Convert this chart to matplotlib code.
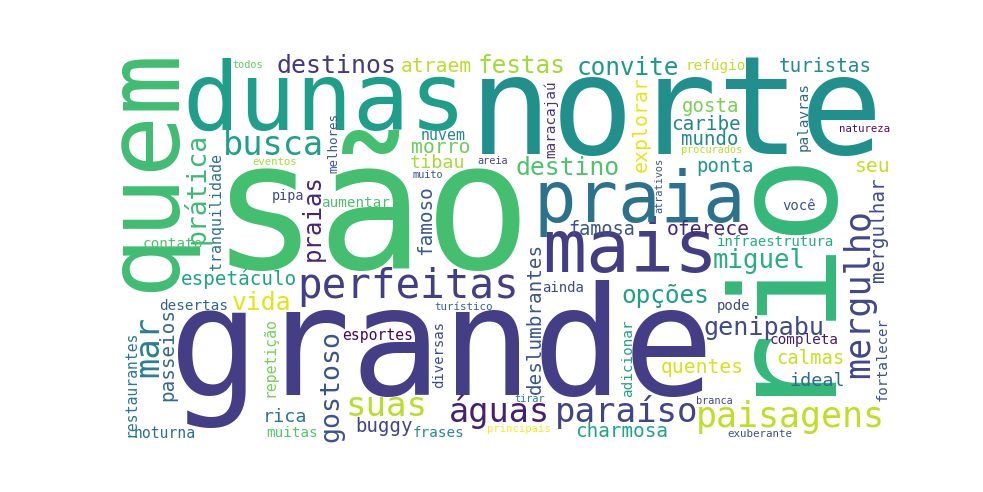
import matplotlib
matplotlib.use("Agg")
import matplotlib.pyplot as plt
from matplotlib.textpath import TextPath
from matplotlib.font_manager import FontProperties

# word cloud terms and their relative weight (1.0 = biggest word)
words = [
    "são", "grande", "rio", "norte", "quem", "dunas", "mais", "praia",
    "perfeitas", "mergulho", "paisagens", "paraíso", "suas", "mar", "águas",
    "busca", "gostoso", "prática", "miguel", "genipabu", "destinos", "vida",
    "destino", "festas", "convite", "opções", "praias", "morro", "explorar",
    "atraem", "seu", "oferece", "quentes", "famoso", "turistas", "caribe",
    "espetáculo", "charmosa", "mergulhar", "deslumbrantes", "passeios",
    "gosta", "mundo", "ponta", "buggy", "calmas", "famosa", "tibau", "ideal",
    "rica", "nuvem", "tranquilidade", "esportes", "repetição", "noturna",
    "restaurantes", "completa", "contato", "aumentar", "refúgio", "frases",
    "muitas", "desertas", "maracajaú", "palavras", "adicionar",
    "infraestrutura", "você", "pode", "fortalecer", "diversas", "ainda",
    "pipa", "melhores", "exuberante", "turístico", "eventos", "natureza",
    "principais", "todos", "areia", "muito", "procurados", "branca", "tirar",
    "atrativos",
]
weights = [
    1.000, 0.848, 0.826, 0.775, 0.573, 0.531, 0.410, 0.397,
    0.230, 0.197, 0.196, 0.192, 0.191, 0.190, 0.189,
    0.189, 0.149, 0.148, 0.145, 0.141, 0.140, 0.139,
    0.139, 0.137, 0.137, 0.137, 0.135, 0.111, 0.112,
    0.110, 0.110, 0.110, 0.110, 0.109, 0.108, 0.108,
    0.108, 0.108, 0.108, 0.108, 0.108,
    0.107, 0.107, 0.107, 0.107, 0.106, 0.104, 0.103, 0.103,
    0.103, 0.084, 0.084, 0.083, 0.083, 0.083,
    0.083, 0.081, 0.081, 0.080, 0.080, 0.080,
    0.080, 0.080, 0.080, 0.080, 0.080,
    0.079, 0.079, 0.079, 0.079, 0.079, 0.078,
    0.076, 0.070, 0.061, 0.061, 0.060, 0.060,
    0.059, 0.058, 0.058, 0.058, 0.058, 0.058, 0.058,
    0.058,
]

MAX_PX = 178  # pixel size of the biggest word
DPI = 100
FONT = "DejaVu Sans Mono"

# layout: x, y (pixels, y down), rotated?, colour
# horizontal: x = ink centre, y = baseline ; vertical: x = baseline, y = ink centre
layout = {
    "grande": (442, 395, 0, "#433e85"),
    "são": (375, 268, 0, "#44bf70"),
    "norte": (679, 154, 0, "#21908d"),
    "dunas": (323, 130, 0, "#1f9e89"),
    "praia": (640, 222, 0, "#2c728e"),
    "mais": (628, 272, 0, "#433d84"),
    "perfeitas": (408, 298, 0, "#423f85"),
    "busca": (273.5, 155, 0, "#1fa088"),
    "destinos": (336.5, 73, 0, "#453781"),
    "atraem": (436, 72, 0, "#b8de29"),
    "festas": (522, 73, 0, "#a2da37"),
    "convite": (628, 75, 0, "#1f998a"),
    "refúgio": (716, 70, 0, "#bddf26"),
    "turistas": (825, 72, 0, "#228c8d"),
    "todos": (248, 68, 0, "#5ec962"),
    "eventos": (275, 165, 0, "#a5db36"),
    "pipa": (288, 200, 0, "#3e4a89"),
    "aumentar": (356, 207, 0, "#4ac16d"),
    "contato": (173, 248, 0, "#4ec36b"),
    "nuvem": (443, 140, 0, "#25858e"),
    "morro": (441, 153, 0, "#6ccd5a"),
    "tibau": (437, 168, 0, "#a8db34"),
    "areia": (493, 164, 0, "#3e4989"),
    "muito": (428, 178, 0, "#38588c"),
    "destino": (567.5, 175, 0, "#4ec36b"),
    "gosta": (710, 112, 0, "#7ad151"),
    "caribe": (706, 130, 0, "#25858e"),
    "mundo": (710, 145, 0, "#23898e"),
    "procurados": (712, 153, 0, "#b5de2b"),
    "natureza": (865, 132, 0, "#471063"),
    "ponta": (724.5, 172, 0, "#1f978b"),
    "seu": (873, 172, 0, "#c2df23"),
    "você": (799, 210, 0, "#3b528b"),
    "oferece": (708, 235, 0, "#482677"),
    "infraestrutura": (776.5, 246, 0, "#27ad81"),
    "famosa": (602, 235, 0, "#3b528b"),
    "miguel": (759, 268, 0, "#29af7f"),
    "opções": (665.5, 303, 0, "#1f9e89"),
    "pode": (734, 310, 0, "#3e4989"),
    "genipabu": (764, 335, 0, "#3e4a89"),
    "completa": (804, 344, 0, "#481b6d"),
    "calmas": (810, 364, 0, "#c8e020"),
    "quentes": (702, 373, 0, "#d8e219"),
    "ideal": (816.5, 386, 0, "#31688e"),
    "branca": (715, 404, 0, "#3f4889"),
    "paisagens": (790.5, 427, 0, "#bddf26"),
    "exuberante": (760, 437, 0, "#3b528b"),
    "paraíso": (627, 422, 0, "#414487"),
    "charmosa": (622, 437, 0, "#20a386"),
    "águas": (498.5, 422, 0, "#481f70"),
    "suas": (386, 416, 0, "#b8de29"),
    "buggy": (384.5, 432, 0, "#414487"),
    "frases": (438, 437, 0, "#23898e"),
    "principais": (519, 432, 0, "#fde725"),
    "tirar": (530, 402, 0, "#26828e"),
    "ainda": (563, 292, 0, "#3e4989"),
    "turístico": (463.5, 310, 0, "#31688e"),
    "esportes": (377.5, 340, 0, "#46085c"),
    "rica": (286, 422, 0, "#2c728e"),
    "muitas": (292, 437, 0, "#52c569"),
    "noturna": (165, 438, 0, "#2e6f8e"),
    "desertas": (193.5, 310, 0, "#33638d"),
    "vida": (261.5, 310, 0, "#e2e418"),
    "espetáculo": (238.5, 285, 0, "#20a486"),
    "quem": (180, 175, 1, "#40bd72"),
    "rio": (837, 280, 1, "#35b779"),
    "prática": (207, 191, 1, "#3bbb75"),
    "tranquilidade": (222, 212, 1, "#2c728e"),
    "praias": (322, 220, 1, "#482475"),
    "melhores": (338, 144, 1, "#39568c"),
    "maracajaú": (556, 120, 1, "#46337f"),
    "explorar": (648, 125, 1, "#e7e419"),
    "palavras": (809, 118.5, 1, "#31688e"),
    "atrativos": (663.5, 185.5, 1, "#3a548c"),
    "mergulhar": (885, 231, 1, "#3e4c8a"),
    "mergulho": (871, 296, 1, "#404688"),
    "fortalecer": (888, 360, 1, "#3b528b"),
    "deslumbrantes": (542, 320, 1, "#39568c"),
    "diversas": (444, 355, 1, "#3e4989"),
    "adicionar": (633, 359.5, 1, "#1fa088"),
    "gostoso": (340, 387.5, 1, "#3b528b"),
    "repetição": (277, 359, 1, "#73d056"),
    "restaurantes": (138, 385.5, 1, "#2a788e"),
    "passeios": (175, 357, 1, "#31688e"),
    "mar": (160, 348.5, 1, "#277f8e"),
    "famoso": (433, 222, 1, "#38598c"),
}

fig = plt.figure(figsize=(9.83, 4.92), dpi=DPI, facecolor="white")
ax = fig.add_axes([0, 0, 1, 1])
ax.set_xlim(0, 983)
ax.set_ylim(492, 0)
ax.axis("off")

fp = FontProperties(family=FONT)
for word, w in zip(words, weights):
    x, y, rot, color = layout[word]
    em = w * MAX_PX
    # ink extents of the word, to centre on the glyphs themselves
    ext = TextPath((0, 0), word, size=em, prop=fp).get_extents()
    if rot:
        # Agg puts rotated text's ink at the pen origin, shifted by the
        # first glyph's bearing, so compensate for that here
        tx, ty = x - ext.x0, y + (ext.x1 - ext.x0) / 2
    else:
        tx, ty = x - (ext.x0 + ext.x1) / 2, y
    ax.text(tx, ty, word, fontsize=em * 72 / DPI, family=FONT, color=color,
            rotation=90 if rot else 0, rotation_mode="anchor",
            ha="left", va="baseline")

fig.savefig("out.png", dpi=DPI, facecolor="white")
